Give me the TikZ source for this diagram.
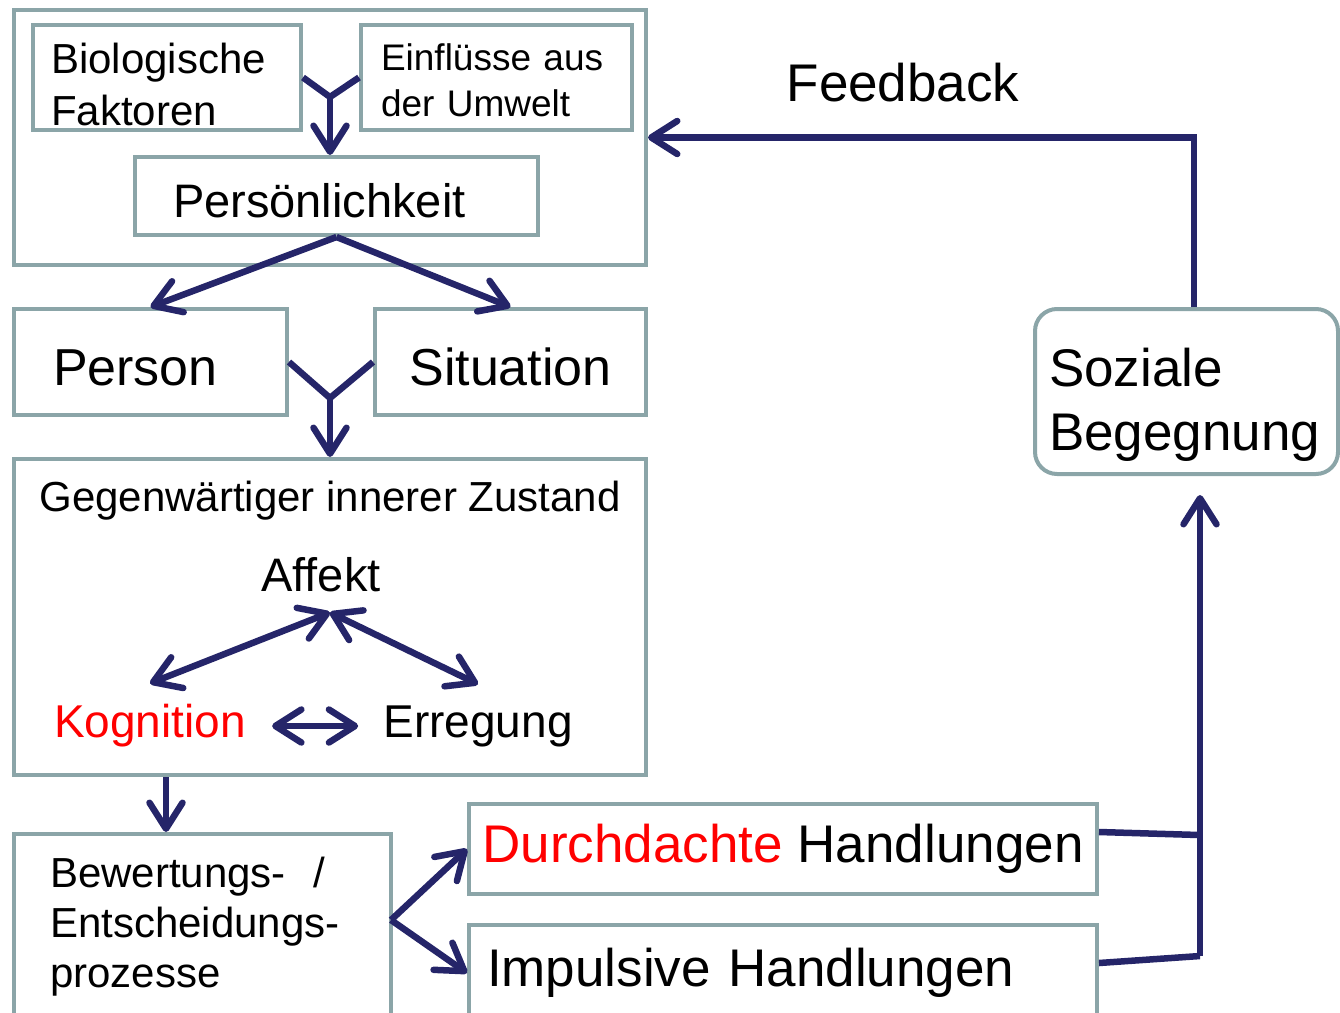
\documentclass[tikz,border=0pt]{standalone}
\usepackage{fontspec}
\setmainfont{Liberation Sans}
\usetikzlibrary{arrows.meta}
\definecolor{rahmen}{RGB}{139,165,168}
\definecolor{dunkelblau}{RGB}{37,37,105}
\begin{document}
\begin{tikzpicture}
    [
        x=1pt,y=-1pt,
        kasten/.style={draw=rahmen,line width=4pt,fill=white,inner ysep=0pt,align=left},
        linie/.style={draw=dunkelblau,line width=6.5pt},
        pfeil/.style={linie,-{Straight Barb[length=26pt,width=33pt,round]}},
        doppelpfeil/.style={linie,{Straight Barb[length=26pt,width=33pt,round]}-{Straight Barb[length=26pt,width=33pt,round]}},
    ]
\useasboundingbox (0,0) rectangle (1340,1012);
\clip (0,0) rectangle (1340,1012);

\node[kasten,minimum width=632pt,minimum height=255pt] (oben) at (330,137.5) {};
\node[kasten,minimum width=268pt,minimum height=105pt,text width=232pt,inner xsep=18pt,font=\fontsize{42}{52}\selectfont] (bio) at (167,77.5) {\rule{0pt}{44pt}Biologische\\Faktoren};
\node[kasten,minimum width=271pt,minimum height=105pt,text width=231pt,inner xsep=20pt,font=\fontsize{37}{46}\selectfont] (einfl) at (496.5,77.5) {\rule{0pt}{33pt}Einflüsse aus\\der Umwelt};
\node[kasten,minimum width=403pt,minimum height=78pt,text width=327pt,inner xsep=38pt,text height=42pt,text depth=0pt,font=\fontsize{47}{56}\selectfont] (pers) at (336.5,196) {Persönlichkeit};

\node[kasten,minimum width=273pt,minimum height=106pt,text width=195pt,inner xsep=39pt,text height=47pt,text depth=0pt,font=\fontsize{52}{62}\selectfont] (person) at (150.5,362) {Person};
\node[kasten,minimum width=271pt,minimum height=106pt,text height=47pt,text depth=0pt,font=\fontsize{52}{62}\selectfont] (situation) at (510.5,362) {Situation};

\node[kasten,minimum width=632pt,minimum height=316pt] (zustand) at (330,617) {};
\node[font=\fontsize{42}{50}\selectfont] (titel) at (330,501) {Gegenwärtiger innerer Zustand};
\node[font=\fontsize{47}{56}\selectfont,inner ysep=20pt] (affekt) at (321,575) {Affekt};
\node[font=\fontsize{46}{55}\selectfont,text=red,inner xsep=26pt,inner ysep=21pt] (kognition) at (150,726) {Kognition};
\node[font=\fontsize{46}{55}\selectfont,inner xsep=25pt,inner ysep=21pt] (erregung) at (478,726) {Erregung};

\node[kasten,minimum width=377pt,minimum height=185pt,text width=305pt,inner xsep=36pt,font=\fontsize{42}{50}\selectfont] (bewert) at (202.5,926.5) {Bewertungs-\ \ /\\Entscheidungs-\\prozesse};
\node[kasten,minimum width=628pt,minimum height=90pt,font=\fontsize{53}{64}\selectfont] (durch) at (783,849) {\textcolor{red}{Durchdachte} Handlungen};
\node[kasten,minimum width=628pt,minimum height=96pt,text width=592pt,inner xsep=18pt,font=\fontsize{53}{64}\selectfont] (impuls) at (783,973) {Impulsive Handlungen};

\node[kasten,rounded corners=22pt,minimum width=303pt,minimum height=165pt,text width=275pt,inner xsep=0pt,font=\fontsize{53}{64}\selectfont] (sozial) at (1186.5,391.5) {\rule{0pt}{65pt}Soziale\\Begegnung};
\node[font=\fontsize{53}{64}\selectfont] (feedback) at (903,83) {Feedback};

\coordinate (m1) at (330,97);
\coordinate (m2) at (330,398);
\coordinate (m3) at (391,920);
\coordinate (a1) at ([xshift=9pt]affekt.south);
\coordinate (k1) at ([xshift=-36.5pt]bewert.north);
\coordinate (r1) at (1199,835);
\coordinate (r2) at (1200,956);

\foreach \n in {bio.east,einfl.west}
    \draw[linie] (\n) -- (m1);
\draw[pfeil] (m1) -- (m1 |- pers.north);
\draw[pfeil] (pers.south) -- (person.north);
\draw[pfeil] (pers.south) -- (situation.north);
\foreach \n in {person.east,situation.west}
    \draw[linie] (\n) -- (m2);
\draw[pfeil] (m2) -- (m2 |- zustand.north);

\draw[doppelpfeil] (a1) -- (kognition.north);
\draw[doppelpfeil] (a1) -- (erregung.north);
\draw[doppelpfeil] (kognition.east) -- (erregung.west);

\draw[pfeil] (k1 |- zustand.south) -- (k1);
\draw[pfeil] (m3) -- (durch.west);
\draw[pfeil] (m3) -- (impuls.west);

\draw[linie] ([yshift=17pt]durch.east) -- (r1);
\draw[linie] ([yshift=10pt]impuls.east) -- (r2);
\draw[pfeil,shorten >=19pt] (r2) -- (r2 |- sozial.south);
\draw[pfeil] ([xshift=7.5pt]sozial.north) |- (oben.east);
\end{tikzpicture}
\end{document}
